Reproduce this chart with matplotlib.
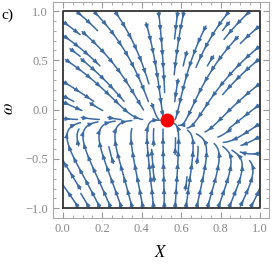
import numpy as np
import matplotlib
matplotlib.use('Agg')
import matplotlib.pyplot as plt
from matplotlib.ticker import MultipleLocator

plt.rcParams['mathtext.fontset'] = 'stix'

# fixed point and slow manifold shape
x_fix = 0.53
w_fix = -0.107
manifold_slope = 0.8
k_fast = 1.0
a_upper = 1.2
a_lower = 0.9
eps = 0.15

x_ticks = [0.0, 0.2, 0.4, 0.6, 0.8, 1.0]
w_ticks = [-1.0, -0.5, 0.0, 0.5, 1.0]

stream_col = '#3b6aa0'


def field(x, w):
    h = w_fix - manifold_slope * max(x - x_fix, 0)
    d = w - h
    v = -k_fast * d
    a = a_upper if d > 0 else a_lower
    u = -a * (x - x_fix) * d - eps * (x - x_fix)
    return u, v


# streamlines, integrated in "box" coords (x, w/2) so both are 0..1 wide
cell = 0.045
nc = int(1 / cell) + 1
occupied = np.zeros((nc, nc), dtype=int)


def trace(x, w, sign, own, max_len=0.5, ds=0.004):
    pts = []
    length = 0.0
    while length < max_len:
        u, v = field(x, w)
        du, dv = u, v / 2
        sp = np.hypot(du, dv)
        if sp < 1e-4 or np.hypot(x - x_fix, (w - w_fix) / 2) < 0.012:
            break
        nx = x + sign * ds * du / sp
        nw = w + sign * 2 * ds * dv / sp
        if not (0 <= nx <= 1 and -1 <= nw <= 1):
            break
        ci, cj = int(nx / cell), int((nw + 1) / 2 / cell)
        if occupied[ci, cj] and (ci, cj) not in own:
            break
        own.add((ci, cj))
        x, w = nx, nw
        pts.append((x, w))
        length += ds
    return pts


lines = []
seed_x = np.arange(0.02, 1.0, 0.055)
seed_w = np.arange(-0.98, 1.0, 0.11)
for sw in seed_w:
    for sx in seed_x:
        ci, cj = int(sx / cell), int((sw + 1) / 2 / cell)
        if occupied[ci, cj]:
            continue
        own = {(ci, cj)}
        back = trace(sx, sw, -1, own)
        fwd = trace(sx, sw, 1, own)
        pts = back[::-1] + [(sx, sw)] + fwd
        if len(pts) * 0.004 < 0.06:
            continue
        for c in own:
            occupied[c] = 1
        lines.append(np.array(pts))

fig = plt.figure(figsize=(2.73, 2.66), dpi=100)
ax = fig.add_axes([0.194, 0.18, 0.791, 0.812])

for pts in lines:
    ax.plot(pts[:, 0], pts[:, 1], color=stream_col, lw=1.1, solid_capstyle='round')
    # arrowheads along the line
    for k in range(8, len(pts) - 1, 16):
        ax.annotate('', xy=pts[k + 1], xytext=pts[k - 1],
                    arrowprops=dict(arrowstyle='-|>,head_length=0.32,head_width=0.13',
                                    color=stream_col, lw=0.6,
                                    shrinkA=0, shrinkB=0))

ax.plot([x_fix], [w_fix], 'o', color='red', markersize=9, zorder=5)
ax.plot([0, 1, 1, 0, 0], [-1, -1, 1, 1, -1], color='#333333', lw=1.3, zorder=4)

ax.set_xlim(-0.05, 1.045)
ax.set_ylim(-1.1, 1.09)
ax.set_xticks(x_ticks)
ax.set_yticks(w_ticks)
ax.xaxis.set_minor_locator(MultipleLocator(0.05))
ax.yaxis.set_minor_locator(MultipleLocator(0.1))
ax.tick_params(which='both', direction='in', top=True, right=True,
               colors='#999999', labelcolor='#888888', labelsize=9)
ax.tick_params(which='major', length=4)
ax.tick_params(which='minor', length=2)
for lab in ax.get_xticklabels() + ax.get_yticklabels():
    lab.set_family('Liberation Serif')
for s in ax.spines.values():
    s.set_color('#aaaaaa')

ax.set_xlabel('$X$', fontsize=12, labelpad=6)
fig.text(0.028, 0.59, r'$\omega$', fontsize=12, rotation=90,
         ha='center', va='center')
fig.text(0.005, 0.93, 'c)', fontsize=11, family='Liberation Serif')

fig.savefig('out.png', dpi=100)
